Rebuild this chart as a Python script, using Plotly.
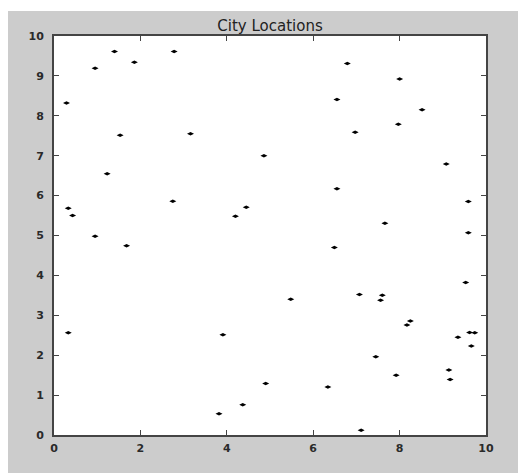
import plotly.graph_objects as go

# City coordinates
city_x = [1.40, 2.78, 1.86, 0.95, 0.29, 1.53, 3.16, 4.86, 1.23, 2.75,
          0.33, 0.43, 4.45, 4.20, 6.79, 8.00, 6.55, 8.52, 7.97, 6.97,
          9.08, 6.55, 9.59, 7.66, 9.59, 0.95, 1.68, 0.33, 3.91, 3.82,
          4.37, 4.90, 6.49, 5.48, 7.07, 7.60, 7.56, 9.53, 8.25, 8.17,
          9.62, 9.74, 9.35, 9.66, 7.45, 7.92, 9.14, 9.17, 6.34, 7.11]
city_y = [9.61, 9.61, 9.34, 9.19, 8.32, 7.51, 7.55, 7.00, 6.55, 5.86,
          5.68, 5.50, 5.71, 5.48, 9.31, 8.92, 8.41, 8.15, 7.79, 7.59,
          6.79, 6.17, 5.85, 5.31, 5.07, 4.98, 4.74, 2.56, 2.51, 0.53,
          0.76, 1.29, 4.70, 3.40, 3.52, 3.50, 3.38, 3.82, 2.86, 2.76,
          2.57, 2.56, 2.45, 2.23, 1.96, 1.50, 1.63, 1.39, 1.20, 0.12]

x_ticks = [0, 2, 4, 6, 8, 10]
y_ticks = [0, 1, 2, 3, 4, 5, 6, 7, 8, 9, 10]
title_text = "City Locations"

W, H = 518, 473
L, R, T, B = 54, 32, 36, 38
pw, ph = W - L - R, H - T - B

def px2x(p):
    return (p - L) / pw

def py2y(p):
    return (H - B - p) / ph

fig = go.Figure()
fig.add_trace(go.Scatter(
    x=city_x, y=city_y, mode="markers",
    marker=dict(symbol="diamond-wide", size=5, color="black", line=dict(width=0)),
    hoverinfo="x+y", showlegend=False,
))

axis_common = dict(
    showgrid=False, zeroline=False, showline=True, linecolor="#444444",
    linewidth=2, mirror="ticks", ticks="inside", ticklen=5, tickwidth=1,
    tickcolor="#444444", range=[0, 10],
    tickfont=dict(family="DejaVu Sans, Verdana, sans-serif", size=11,
                  weight="bold", color="#2a2a2a"),
)

fig.update_layout(
    width=W, height=H,
    margin=dict(l=L, r=R, t=T, b=B, pad=0),
    paper_bgcolor="#cccccc",
    plot_bgcolor="white",
    title=dict(text=title_text, x=(L + pw / 2) / W, xanchor="center",
               y=1 - 25.5 / H, yanchor="middle",
               font=dict(family="DejaVu Sans, Verdana, sans-serif", size=15, color="#222222")),
    xaxis=dict(**axis_common, tickvals=x_ticks, ticktext=[str(v) for v in x_ticks],
               ticklabelstandoff=2),
    yaxis=dict(**axis_common, tickvals=y_ticks, ticktext=[str(v) for v in y_ticks],
               ticklabelstandoff=6),
    shapes=[
        dict(type="rect", xref="paper", yref="paper", layer="below",
             x0=px2x(0), x1=px2x(W), y0=py2y(11), y1=py2y(0),
             fillcolor="white", line=dict(width=0)),
        dict(type="rect", xref="paper", yref="paper", layer="below",
             x0=px2x(0), x1=px2x(8), y0=py2y(H), y1=py2y(0),
             fillcolor="white", line=dict(width=0)),
    ],
)

fig.write_html("out.html")
